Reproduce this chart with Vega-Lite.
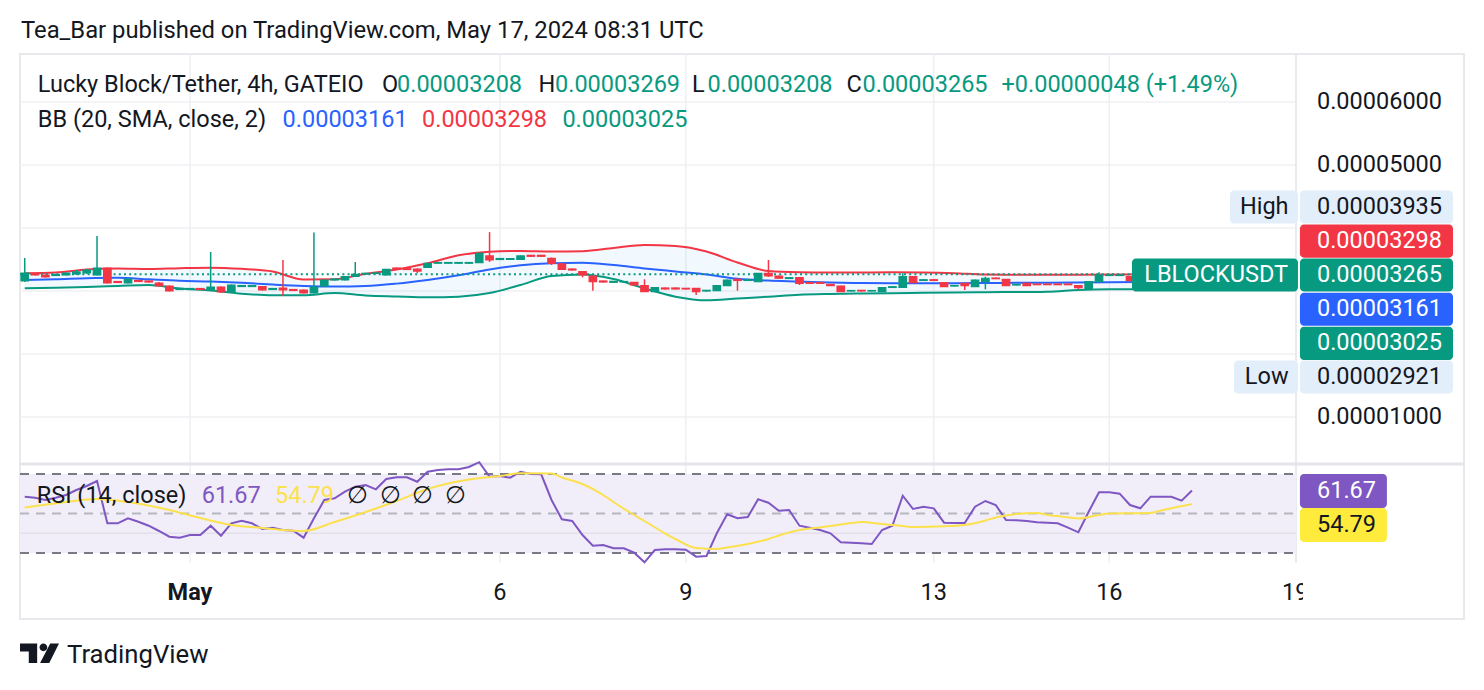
{
"$schema":"https://vega.github.io/schema/vega-lite/v6.json",
"width":1484,"height":690,
"autosize":{"type":"none"},
"padding":0,
"background":"#ffffff",
"config":{"view":{"stroke":null},"axis":{"disable":true},"font":"Roboto","scale":{"continuousPadding":0},"text":{"font":"Roboto","fontSize":23.5,"align":"left","baseline":"middle","color":"#131722"}},
"datasets":{
"candles":[
{"i":-16,"o":3.159e-5,"h":3.524e-5,"l":3.143e-5,"c":3.286e-5},
{"i":-15,"o":3.278e-5,"h":3.286e-5,"l":3.246e-5,"c":3.254e-5},
{"i":-14,"o":3.254e-5,"h":3.262e-5,"l":3.214e-5,"c":3.222e-5},
{"i":-13,"o":3.246e-5,"h":3.270e-5,"l":3.238e-5,"c":3.262e-5},
{"i":-12,"o":3.254e-5,"h":3.294e-5,"l":3.246e-5,"c":3.286e-5},
{"i":-11,"o":3.270e-5,"h":3.333e-5,"l":3.254e-5,"c":3.302e-5},
{"i":-10,"o":3.286e-5,"h":3.349e-5,"l":3.270e-5,"c":3.333e-5},
{"i":-9,"o":3.254e-5,"h":3.873e-5,"l":3.246e-5,"c":3.365e-5},
{"i":-8,"o":3.365e-5,"h":3.373e-5,"l":3.119e-5,"c":3.127e-5},
{"i":-7,"o":3.151e-5,"h":3.159e-5,"l":3.127e-5,"c":3.135e-5},
{"i":-6,"o":3.127e-5,"h":3.198e-5,"l":3.119e-5,"c":3.190e-5},
{"i":-5,"o":3.167e-5,"h":3.175e-5,"l":3.143e-5,"c":3.151e-5},
{"i":-4,"o":3.159e-5,"h":3.167e-5,"l":3.135e-5,"c":3.143e-5},
{"i":-3,"o":3.127e-5,"h":3.143e-5,"l":3.071e-5,"c":3.079e-5},
{"i":-2,"o":3.079e-5,"h":3.087e-5,"l":2.992e-5,"c":3.000e-5},
{"i":-1,"o":3.024e-5,"h":3.048e-5,"l":3.016e-5,"c":3.040e-5},
{"i":0,"o":3.024e-5,"h":3.048e-5,"l":3.016e-5,"c":3.040e-5},
{"i":1,"o":3.040e-5,"h":3.048e-5,"l":3.016e-5,"c":3.024e-5},
{"i":2,"o":3.016e-5,"h":3.619e-5,"l":3.000e-5,"c":3.063e-5},
{"i":3,"o":3.063e-5,"h":3.071e-5,"l":2.968e-5,"c":2.984e-5},
{"i":4,"o":2.984e-5,"h":3.103e-5,"l":2.976e-5,"c":3.095e-5},
{"i":5,"o":3.071e-5,"h":3.095e-5,"l":3.063e-5,"c":3.087e-5},
{"i":6,"o":3.071e-5,"h":3.095e-5,"l":3.063e-5,"c":3.087e-5},
{"i":7,"o":3.071e-5,"h":3.079e-5,"l":3.008e-5,"c":3.016e-5},
{"i":8,"o":3.024e-5,"h":3.048e-5,"l":3.016e-5,"c":3.040e-5},
{"i":9,"o":3.048e-5,"h":3.492e-5,"l":2.921e-5,"c":3.016e-5},
{"i":10,"o":3.024e-5,"h":3.032e-5,"l":3.000e-5,"c":3.008e-5},
{"i":11,"o":3.016e-5,"h":3.024e-5,"l":2.960e-5,"c":2.968e-5},
{"i":12,"o":2.968e-5,"h":3.929e-5,"l":2.960e-5,"c":3.063e-5},
{"i":13,"o":3.079e-5,"h":3.183e-5,"l":3.071e-5,"c":3.175e-5},
{"i":14,"o":3.175e-5,"h":3.198e-5,"l":3.167e-5,"c":3.190e-5},
{"i":15,"o":3.175e-5,"h":3.238e-5,"l":3.167e-5,"c":3.230e-5},
{"i":16,"o":3.230e-5,"h":3.460e-5,"l":3.222e-5,"c":3.265e-5},
{"i":17,"o":3.270e-5,"h":3.286e-5,"l":3.262e-5,"c":3.281e-5},
{"i":18,"o":3.278e-5,"h":3.294e-5,"l":3.270e-5,"c":3.286e-5},
{"i":19,"o":3.254e-5,"h":3.349e-5,"l":3.246e-5,"c":3.344e-5},
{"i":20,"o":3.365e-5,"h":3.373e-5,"l":3.341e-5,"c":3.349e-5},
{"i":21,"o":3.357e-5,"h":3.365e-5,"l":3.333e-5,"c":3.341e-5},
{"i":22,"o":3.349e-5,"h":3.357e-5,"l":3.286e-5,"c":3.317e-5},
{"i":23,"o":3.376e-5,"h":3.444e-5,"l":3.365e-5,"c":3.440e-5},
{"i":24,"o":3.441e-5,"h":3.460e-5,"l":3.437e-5,"c":3.452e-5},
{"i":25,"o":3.441e-5,"h":3.460e-5,"l":3.437e-5,"c":3.452e-5},
{"i":26,"o":3.441e-5,"h":3.460e-5,"l":3.437e-5,"c":3.452e-5},
{"i":27,"o":3.441e-5,"h":3.460e-5,"l":3.437e-5,"c":3.452e-5},
{"i":28,"o":3.449e-5,"h":3.603e-5,"l":3.444e-5,"c":3.598e-5},
{"i":29,"o":3.556e-5,"h":3.935e-5,"l":3.460e-5,"c":3.492e-5},
{"i":30,"o":3.500e-5,"h":3.524e-5,"l":3.492e-5,"c":3.516e-5},
{"i":31,"o":3.500e-5,"h":3.524e-5,"l":3.492e-5,"c":3.516e-5},
{"i":32,"o":3.503e-5,"h":3.564e-5,"l":3.500e-5,"c":3.556e-5},
{"i":33,"o":3.567e-5,"h":3.571e-5,"l":3.548e-5,"c":3.551e-5},
{"i":34,"o":3.567e-5,"h":3.571e-5,"l":3.548e-5,"c":3.551e-5},
{"i":35,"o":3.519e-5,"h":3.532e-5,"l":3.413e-5,"c":3.440e-5},
{"i":36,"o":3.429e-5,"h":3.437e-5,"l":3.341e-5,"c":3.344e-5},
{"i":37,"o":3.349e-5,"h":3.357e-5,"l":3.325e-5,"c":3.333e-5},
{"i":38,"o":3.306e-5,"h":3.317e-5,"l":3.217e-5,"c":3.254e-5},
{"i":39,"o":3.238e-5,"h":3.246e-5,"l":3.005e-5,"c":3.148e-5},
{"i":40,"o":3.159e-5,"h":3.167e-5,"l":3.135e-5,"c":3.143e-5},
{"i":41,"o":3.138e-5,"h":3.159e-5,"l":3.132e-5,"c":3.154e-5},
{"i":42,"o":3.143e-5,"h":3.159e-5,"l":3.135e-5,"c":3.151e-5},
{"i":43,"o":3.138e-5,"h":3.143e-5,"l":3.087e-5,"c":3.095e-5},
{"i":44,"o":3.084e-5,"h":3.186e-5,"l":2.984e-5,"c":2.989e-5},
{"i":45,"o":2.989e-5,"h":3.063e-5,"l":2.984e-5,"c":3.052e-5},
{"i":46,"o":3.048e-5,"h":3.056e-5,"l":3.024e-5,"c":3.032e-5},
{"i":47,"o":3.048e-5,"h":3.056e-5,"l":3.024e-5,"c":3.032e-5},
{"i":48,"o":3.043e-5,"h":3.048e-5,"l":3.024e-5,"c":3.032e-5},
{"i":49,"o":3.043e-5,"h":3.048e-5,"l":2.937e-5,"c":2.989e-5},
{"i":50,"o":3.000e-5,"h":3.016e-5,"l":2.992e-5,"c":3.011e-5},
{"i":51,"o":3.005e-5,"h":3.095e-5,"l":3.000e-5,"c":3.084e-5},
{"i":52,"o":3.084e-5,"h":3.183e-5,"l":3.079e-5,"c":3.175e-5},
{"i":53,"o":3.186e-5,"h":3.186e-5,"l":3.005e-5,"c":3.167e-5},
{"i":54,"o":3.167e-5,"h":3.186e-5,"l":3.159e-5,"c":3.179e-5},
{"i":55,"o":3.148e-5,"h":3.286e-5,"l":3.143e-5,"c":3.281e-5},
{"i":56,"o":3.281e-5,"h":3.492e-5,"l":3.222e-5,"c":3.238e-5},
{"i":57,"o":3.238e-5,"h":3.246e-5,"l":3.198e-5,"c":3.202e-5},
{"i":58,"o":3.198e-5,"h":3.214e-5,"l":3.190e-5,"c":3.211e-5},
{"i":59,"o":3.211e-5,"h":3.214e-5,"l":3.095e-5,"c":3.122e-5},
{"i":60,"o":3.135e-5,"h":3.143e-5,"l":3.119e-5,"c":3.122e-5},
{"i":61,"o":3.135e-5,"h":3.143e-5,"l":3.119e-5,"c":3.122e-5},
{"i":62,"o":3.106e-5,"h":3.111e-5,"l":3.079e-5,"c":3.084e-5},
{"i":63,"o":3.079e-5,"h":3.084e-5,"l":2.984e-5,"c":2.989e-5},
{"i":64,"o":3.000e-5,"h":3.011e-5,"l":2.992e-5,"c":3.008e-5},
{"i":65,"o":3.011e-5,"h":3.016e-5,"l":2.992e-5,"c":3.000e-5},
{"i":66,"o":3.000e-5,"h":3.011e-5,"l":2.992e-5,"c":3.008e-5},
{"i":67,"o":2.989e-5,"h":3.056e-5,"l":2.984e-5,"c":3.052e-5},
{"i":68,"o":3.056e-5,"h":3.071e-5,"l":3.048e-5,"c":3.068e-5},
{"i":69,"o":3.059e-5,"h":3.281e-5,"l":3.056e-5,"c":3.227e-5},
{"i":70,"o":3.227e-5,"h":3.230e-5,"l":3.127e-5,"c":3.132e-5},
{"i":71,"o":3.167e-5,"h":3.186e-5,"l":3.159e-5,"c":3.179e-5},
{"i":72,"o":3.179e-5,"h":3.186e-5,"l":3.159e-5,"c":3.167e-5},
{"i":73,"o":3.132e-5,"h":3.135e-5,"l":3.063e-5,"c":3.068e-5},
{"i":74,"o":3.079e-5,"h":3.087e-5,"l":3.071e-5,"c":3.087e-5},
{"i":75,"o":3.122e-5,"h":3.122e-5,"l":3.016e-5,"c":3.084e-5},
{"i":76,"o":3.068e-5,"h":3.183e-5,"l":3.063e-5,"c":3.175e-5},
{"i":77,"o":3.148e-5,"h":3.227e-5,"l":3.027e-5,"c":3.202e-5},
{"i":78,"o":3.206e-5,"h":3.211e-5,"l":3.190e-5,"c":3.195e-5},
{"i":79,"o":3.186e-5,"h":3.190e-5,"l":3.079e-5,"c":3.084e-5},
{"i":80,"o":3.095e-5,"h":3.111e-5,"l":3.087e-5,"c":3.106e-5},
{"i":81,"o":3.122e-5,"h":3.127e-5,"l":3.079e-5,"c":3.084e-5},
{"i":82,"o":3.111e-5,"h":3.111e-5,"l":3.095e-5,"c":3.100e-5},
{"i":83,"o":3.111e-5,"h":3.111e-5,"l":3.095e-5,"c":3.100e-5},
{"i":84,"o":3.111e-5,"h":3.111e-5,"l":3.095e-5,"c":3.100e-5},
{"i":85,"o":3.111e-5,"h":3.111e-5,"l":3.095e-5,"c":3.100e-5},
{"i":86,"o":3.084e-5,"h":3.087e-5,"l":3.027e-5,"c":3.052e-5},
{"i":87,"o":3.027e-5,"h":3.151e-5,"l":3.024e-5,"c":3.148e-5},
{"i":88,"o":3.148e-5,"h":3.297e-5,"l":3.143e-5,"c":3.254e-5},
{"i":89,"o":3.246e-5,"h":3.262e-5,"l":3.238e-5,"c":3.254e-5},
{"i":90,"o":3.246e-5,"h":3.262e-5,"l":3.238e-5,"c":3.254e-5},
{"i":91,"o":3.227e-5,"h":3.230e-5,"l":3.159e-5,"c":3.164e-5},
{"i":92,"o":3.164e-5,"h":3.175e-5,"l":3.143e-5,"c":3.151e-5},
{"i":93,"o":3.151e-5,"h":3.254e-5,"l":3.143e-5,"c":3.246e-5},
{"i":94,"o":3.243e-5,"h":3.254e-5,"l":3.238e-5,"c":3.249e-5},
{"i":95,"o":3.249e-5,"h":3.257e-5,"l":3.238e-5,"c":3.251e-5},
{"i":96,"o":3.246e-5,"h":3.254e-5,"l":3.198e-5,"c":3.208e-5},
{"i":97,"o":3.208e-5,"h":3.269e-5,"l":3.208e-5,"c":3.265e-5}
],
"bb":[
{"i":-16,"up":3.283e-5,"bas":3.175e-5,"lo":3.043e-5},
{"i":-13,"up":3.294e-5,"bas":3.186e-5,"lo":3.051e-5},
{"i":-10,"up":3.341e-5,"bas":3.203e-5,"lo":3.063e-5},
{"i":-7,"up":3.357e-5,"bas":3.210e-5,"lo":3.079e-5},
{"i":-4,"up":3.349e-5,"bas":3.186e-5,"lo":3.095e-5},
{"i":-1,"up":3.362e-5,"bas":3.163e-5,"lo":3.040e-5},
{"i":2,"up":3.370e-5,"bas":3.151e-5,"lo":3.008e-5},
{"i":5,"up":3.352e-5,"bas":3.130e-5,"lo":2.957e-5},
{"i":8,"up":3.310e-5,"bas":3.103e-5,"lo":2.932e-5},
{"i":11,"up":3.183e-5,"bas":3.081e-5,"lo":2.933e-5},
{"i":14,"up":3.187e-5,"bas":3.071e-5,"lo":2.967e-5},
{"i":17,"up":3.273e-5,"bas":3.079e-5,"lo":2.929e-5},
{"i":20,"up":3.341e-5,"bas":3.117e-5,"lo":2.913e-5},
{"i":23,"up":3.441e-5,"bas":3.175e-5,"lo":2.900e-5},
{"i":26,"up":3.567e-5,"bas":3.249e-5,"lo":2.910e-5},
{"i":29,"up":3.624e-5,"bas":3.341e-5,"lo":2.968e-5},
{"i":32,"up":3.635e-5,"bas":3.408e-5,"lo":3.095e-5},
{"i":35,"up":3.627e-5,"bas":3.440e-5,"lo":3.238e-5},
{"i":38,"up":3.632e-5,"bas":3.448e-5,"lo":3.262e-5},
{"i":41,"up":3.683e-5,"bas":3.414e-5,"lo":3.190e-5},
{"i":44,"up":3.730e-5,"bas":3.359e-5,"lo":3.040e-5},
{"i":47,"up":3.714e-5,"bas":3.310e-5,"lo":2.910e-5},
{"i":50,"up":3.627e-5,"bas":3.262e-5,"lo":2.852e-5},
{"i":53,"up":3.452e-5,"bas":3.194e-5,"lo":2.881e-5},
{"i":56,"up":3.317e-5,"bas":3.165e-5,"lo":2.910e-5},
{"i":59,"up":3.297e-5,"bas":3.151e-5,"lo":2.941e-5},
{"i":62,"up":3.292e-5,"bas":3.135e-5,"lo":2.954e-5},
{"i":65,"up":3.294e-5,"bas":3.127e-5,"lo":2.962e-5},
{"i":68,"up":3.297e-5,"bas":3.124e-5,"lo":2.965e-5},
{"i":71,"up":3.294e-5,"bas":3.122e-5,"lo":2.971e-5},
{"i":74,"up":3.283e-5,"bas":3.124e-5,"lo":2.976e-5},
{"i":77,"up":3.262e-5,"bas":3.127e-5,"lo":2.981e-5},
{"i":80,"up":3.259e-5,"bas":3.130e-5,"lo":2.984e-5},
{"i":83,"up":3.259e-5,"bas":3.132e-5,"lo":2.987e-5},
{"i":86,"up":3.259e-5,"bas":3.135e-5,"lo":3.016e-5},
{"i":89,"up":3.260e-5,"bas":3.138e-5,"lo":3.027e-5},
{"i":92,"up":3.267e-5,"bas":3.143e-5,"lo":3.027e-5},
{"i":95,"up":3.283e-5,"bas":3.151e-5,"lo":3.027e-5},
{"i":97,"up":3.298e-5,"bas":3.161e-5,"lo":3.025e-5}
],
"rsi":[
{"i":-16,"v":58.51},{"i":-15,"v":58.0},{"i":-14,"v":56.84},{"i":-13,"v":58.0},{"i":-12,"v":59.37},{"i":-11,"v":61.9},{"i":-10,"v":63.92},{"i":-9,"v":66.46},{"i":-8,"v":45.04},{"i":-7,"v":45.04},{"i":-6,"v":47.57},{"i":-5,"v":45.85},{"i":-4,"v":43.82},{"i":-3,"v":41.14},{"i":-2,"v":38.25},{"i":-1,"v":37.75},
{"i":0,"v":39.11},{"i":1,"v":39.11},{"i":2,"v":43.82},{"i":3,"v":38.76},{"i":4,"v":45.04},{"i":5,"v":46.35},{"i":6,"v":45.04},{"i":7,"v":42.15},{"i":8,"v":42.81},{"i":9,"v":41.65},{"i":10,"v":41.29},{"i":11,"v":37.75},{"i":12,"v":47.57},{"i":13,"v":56.84},{"i":14,"v":57.7},{"i":15,"v":61.04},{"i":16,"v":63.57},{"i":17,"v":64.43},{"i":18,"v":62.25},{"i":19,"v":67.47},
{"i":20,"v":68.33},{"i":21,"v":68.33},{"i":22,"v":66.1},{"i":23,"v":71.16},{"i":24,"v":72.03},{"i":25,"v":72.38},{"i":26,"v":72.38},{"i":27,"v":73.54},{"i":28,"v":76.0},{"i":29,"v":68.63},{"i":30,"v":68.99},{"i":31,"v":68.13},{"i":32,"v":71.16},{"i":33,"v":70.0},{"i":34,"v":69.85},{"i":35,"v":56.84},{"i":36,"v":47.06},{"i":37,"v":46.2},{"i":38,"v":39.11},{"i":39,"v":33.7},
{"i":40,"v":34.05},{"i":41,"v":32.38},{"i":42,"v":32.38},{"i":43,"v":30.15},{"i":44,"v":25.29},{"i":45,"v":31.52},{"i":46,"v":31.87},{"i":47,"v":31.87},{"i":48,"v":31.67},{"i":49,"v":28.13},{"i":50,"v":28.48},{"i":51,"v":39.97},{"i":52,"v":49.59},{"i":53,"v":47.57},{"i":54,"v":48.23},{"i":55,"v":57.19},{"i":56,"v":55.47},{"i":57,"v":51.42},{"i":58,"v":51.77},{"i":59,"v":43.82},
{"i":60,"v":42.81},{"i":61,"v":41.65},{"i":62,"v":39.97},{"i":63,"v":35.42},{"i":64,"v":35.21},{"i":65,"v":34.91},{"i":66,"v":34.56},{"i":67,"v":41.65},{"i":68,"v":43.82},{"i":69,"v":59.01},{"i":70,"v":52.28},{"i":71,"v":53.44},{"i":72,"v":52.63},{"i":73,"v":45.34},{"i":74,"v":45.19},{"i":75,"v":45.19},{"i":76,"v":53.44},{"i":77,"v":56.33},{"i":78,"v":54.3},{"i":79,"v":46.71},
{"i":80,"v":46.56},{"i":81,"v":46.2},{"i":82,"v":45.54},{"i":83,"v":45.34},{"i":84,"v":45.04},{"i":85,"v":42.81},{"i":86,"v":40.48},{"i":87,"v":50.91},{"i":88,"v":60.73},{"i":89,"v":60.73},{"i":90,"v":60.03},{"i":91,"v":54.3},{"i":92,"v":52.63},{"i":93,"v":58.51},{"i":94,"v":58.51},{"i":95,"v":58.51},{"i":96,"v":56.48},{"i":97,"v":61.67}
],
"ma":[
{"i":-16,"v":53.04},{"i":-12,"v":55.82},{"i":-9,"v":57.34},{"i":-6,"v":55.82},{"i":-2,"v":51.77},{"i":1,"v":47.72},{"i":4,"v":44.18},{"i":7,"v":42.66},{"i":11,"v":41.14},{"i":14,"v":45.7},{"i":17,"v":50.76},{"i":20,"v":56.33},{"i":23,"v":62.41},{"i":27,"v":67.22},{"i":30,"v":68.99},{"i":32,"v":70.35},{"i":35,"v":70.25},{"i":36,"v":68.23},{"i":38,"v":64.94},{"i":40,"v":59.37},{"i":41,"v":55.82},{"i":43,"v":49.24},{"i":44,"v":46.2},{"i":46,"v":39.87},{"i":47,"v":37.09},{"i":49,"v":32.53},{"i":51,"v":32.03},{"i":52,"v":32.78},{"i":54,"v":34.56},{"i":56,"v":37.09},{"i":57,"v":38.86},{"i":59,"v":41.65},{"i":60,"v":42.41},{"i":62,"v":43.67},{"i":64,"v":45.19},{"i":65,"v":45.7},{"i":67,"v":44.68},{"i":69,"v":43.67},{"i":70,"v":43.16},{"i":73,"v":43.52},{"i":75,"v":44.18},{"i":77,"v":46.46},{"i":78,"v":47.97},{"i":80,"v":49.75},{"i":82,"v":50.25},{"i":83,"v":49.24},{"i":84,"v":48.73},{"i":86,"v":47.47},{"i":88,"v":49.24},{"i":89,"v":50.0},{"i":93,"v":50.25},{"i":94,"v":51.52},{"i":97,"v":54.79}
],
"pticks":[{"p":0.00006,"t":"0.00006000"},{"p":0.00005,"t":"0.00005000"},{"p":0.00004,"t":"0.00004000"},{"p":0.00003,"t":"0.00003000"},{"p":0.00002,"t":"0.00002000"},{"p":0.00001,"t":"0.00001000"}],
"days":[{"i":0,"t":"May"},{"i":30,"t":"6"},{"i":48,"t":"9"},{"i":72,"t":"13"},{"i":89,"t":"16"},{"i":107,"t":"19"}],
"rlevels":[{"v":70},{"v":50},{"v":30}],
"plabels":[
{"k":"high","name":"High","p":0.00003935,"t":"0.00003935"},
{"k":"up","p":0.00003298,"t":"0.00003298"},
{"k":"close","name":"LBLOCKUSDT","p":0.00003265,"t":"0.00003265"},
{"k":"basis","p":0.00003161,"t":"0.00003161"},
{"k":"lower","p":0.00003025,"t":"0.00003025"},
{"k":"low","name":"Low","p":0.00002921,"t":"0.00002921"}
],
"rlabels":[{"k":"rsi","v":61.67,"t":"61.67"},{"k":"ma","v":54.79,"t":"54.79"}],
"legend":[{"sym":"Lucky Block/Tether, 4h, GATEIO","ol":"O","o":"0.00003208","hl":"H","h":"0.00003269","ll":"L","l":"0.00003208","cl":"C","c":"0.00003265","chg":"+0.00000048 (+1.49%)","bb":"BB (20, SMA, close, 2)","bbb":"0.00003161","bbu":"0.00003298","bbl":"0.00003025","rsi":"RSI (14, close)","rsiv":"61.67","rsima":"54.79","na":"∅\u00a0\u00a0∅\u00a0\u00a0∅\u00a0\u00a0∅"}],
"credits":[{"pub":"Tea_Bar published on TradingView.com, May 17, 2024 08:31 UTC","brand":"TradingView"}],
"frame":[{}]
},
"resolve":{"scale":{"y":"independent"}},
"layer":[
{"layer":[
{"data":{"name":"frame"},"mark":{"type":"rect","filled":false,"color":"#E8E9ED","strokeWidth":2},"encoding":{"x":{"datum":-16.457,"type":"quantitative","scale":{"domain":[-18.393,125.27],"nice":false,"zero":false,"padding":0}},"x2":{"datum":123.33},"y":{"datum":0.000067619,"type":"quantitative","scale":{"domain":[-0.0000333333,0.0000761905],"nice":false,"zero":false}},"y2":{"datum":-0.000022063}}},
{"data":{"name":"pticks"},"mark":{"type":"rule","color":"#F0F1F5","strokeWidth":1.5},"encoding":{"x":{"datum":-16.457,"type":"quantitative","scale":{"domain":[-18.393,125.27],"nice":false,"zero":false,"padding":0}},"x2":{"datum":107.07},"y":{"field":"p","type":"quantitative","scale":{"domain":[-0.0000333333,0.0000761905],"nice":false,"zero":false}}}},
{"data":{"name":"days"},"transform":[{"filter":"datum.i < 100"}],"mark":{"type":"rule","color":"#EEEFF3","strokeWidth":1.5},"encoding":{"x":{"field":"i","type":"quantitative","scale":{"domain":[-18.393,125.27],"nice":false,"zero":false,"padding":0}},"y":{"datum":0.000067619,"type":"quantitative","scale":{"domain":[-0.0000333333,0.0000761905],"nice":false,"zero":false}},"y2":{"datum":-0.000013175}}},
{"data":{"name":"frame"},"mark":{"type":"rule","color":"#E3E5EA","strokeWidth":1.5},"encoding":{"x":{"datum":107.07,"type":"quantitative","scale":{"domain":[-18.393,125.27],"nice":false,"zero":false,"padding":0}},"y":{"datum":0.000067619,"type":"quantitative","scale":{"domain":[-0.0000333333,0.0000761905],"nice":false,"zero":false}},"y2":{"datum":-0.000013175}}},
{"data":{"name":"frame"},"mark":{"type":"rule","color":"#E3E5EA","strokeWidth":3},"encoding":{"x":{"datum":-16.457,"type":"quantitative","scale":{"domain":[-18.393,125.27],"nice":false,"zero":false,"padding":0}},"x2":{"datum":123.33},"y":{"datum":0.00000254,"type":"quantitative","scale":{"domain":[-0.0000333333,0.0000761905],"nice":false,"zero":false}}}},
{"data":{"name":"bb"},"mark":{"type":"area","color":"#2196F3","opacity":0.06},"encoding":{"x":{"field":"i","type":"quantitative","scale":{"domain":[-18.393,125.27],"nice":false,"zero":false,"padding":0}},"y":{"field":"lo","type":"quantitative","scale":{"domain":[-0.0000333333,0.0000761905],"nice":false,"zero":false}},"y2":{"field":"up"}}},
{"data":{"name":"bb"},"mark":{"type":"line","color":"#F23645","strokeWidth":2,"interpolate":"monotone"},"encoding":{"x":{"field":"i","type":"quantitative","scale":{"domain":[-18.393,125.27],"nice":false,"zero":false,"padding":0}},"y":{"field":"up","type":"quantitative","scale":{"domain":[-0.0000333333,0.0000761905],"nice":false,"zero":false}}}},
{"data":{"name":"bb"},"mark":{"type":"line","color":"#2962FF","strokeWidth":2,"interpolate":"monotone"},"encoding":{"x":{"field":"i","type":"quantitative","scale":{"domain":[-18.393,125.27],"nice":false,"zero":false,"padding":0}},"y":{"field":"bas","type":"quantitative","scale":{"domain":[-0.0000333333,0.0000761905],"nice":false,"zero":false}}}},
{"data":{"name":"bb"},"mark":{"type":"line","color":"#089981","strokeWidth":2,"interpolate":"monotone"},"encoding":{"x":{"field":"i","type":"quantitative","scale":{"domain":[-18.393,125.27],"nice":false,"zero":false,"padding":0}},"y":{"field":"lo","type":"quantitative","scale":{"domain":[-0.0000333333,0.0000761905],"nice":false,"zero":false}}}},
{"data":{"name":"plabels"},"transform":[{"filter":"datum.k == 'close'"}],"mark":{"type":"rule","color":"#089981","strokeWidth":2,"strokeDash":[2,3.2]},"encoding":{"x":{"datum":-16.457,"type":"quantitative","scale":{"domain":[-18.393,125.27],"nice":false,"zero":false,"padding":0}},"x2":{"datum":91.19},"y":{"field":"p","type":"quantitative","scale":{"domain":[-0.0000333333,0.0000761905],"nice":false,"zero":false}}}},
{"data":{"name":"candles"},"mark":{"type":"rule","strokeWidth":1.5},"encoding":{"x":{"field":"i","type":"quantitative","scale":{"domain":[-18.393,125.27],"nice":false,"zero":false,"padding":0}},"y":{"field":"l","type":"quantitative","scale":{"domain":[-0.0000333333,0.0000761905],"nice":false,"zero":false}},"y2":{"field":"h"},"color":{"condition":{"test":"datum.c >= datum.o","value":"#089981"},"value":"#F23645"}}},
{"data":{"name":"candles"},"mark":{"type":"bar","width":7.5,"strokeWidth":1.2},"encoding":{"x":{"field":"i","type":"quantitative","scale":{"domain":[-18.393,125.27],"nice":false,"zero":false,"padding":0}},"y":{"field":"o","type":"quantitative","scale":{"domain":[-0.0000333333,0.0000761905],"nice":false,"zero":false}},"y2":{"field":"c"},"color":{"condition":{"test":"datum.c >= datum.o","value":"#089981"},"value":"#F23645"},"stroke":{"condition":{"test":"datum.c >= datum.o","value":"#089981"},"value":"#F23645"}}},
{"data":{"name":"credits"},"mark":{"type":"text","fontSize":23.8},"encoding":{"x":{"datum":-16.36,"type":"quantitative","scale":{"domain":[-18.393,125.27],"nice":false,"zero":false,"padding":0}},"y":{"datum":0.00007127,"type":"quantitative","scale":{"domain":[-0.0000333333,0.0000761905],"nice":false,"zero":false}},"text":{"field":"pub"}}},
{"data":{"name":"legend"},"mark":{"type":"text"},"encoding":{"x":{"datum":-14.734,"type":"quantitative","scale":{"domain":[-18.393,125.27],"nice":false,"zero":false,"padding":0}},"y":{"datum":0.000062698,"type":"quantitative","scale":{"domain":[-0.0000333333,0.0000761905],"nice":false,"zero":false}},"text":{"field":"sym"}}},
{"data":{"name":"legend"},"mark":{"type":"text"},"encoding":{"x":{"datum":18.587,"type":"quantitative","scale":{"domain":[-18.393,125.27],"nice":false,"zero":false,"padding":0}},"y":{"datum":0.000062698,"type":"quantitative","scale":{"domain":[-0.0000333333,0.0000761905],"nice":false,"zero":false}},"text":{"field":"ol"}}},
{"data":{"name":"legend"},"mark":{"type":"text","color":"#089981"},"encoding":{"x":{"datum":20.039,"type":"quantitative","scale":{"domain":[-18.393,125.27],"nice":false,"zero":false,"padding":0}},"y":{"datum":0.000062698,"type":"quantitative","scale":{"domain":[-0.0000333333,0.0000761905],"nice":false,"zero":false}},"text":{"field":"o"}}},
{"data":{"name":"legend"},"mark":{"type":"text"},"encoding":{"x":{"datum":33.737,"type":"quantitative","scale":{"domain":[-18.393,125.27],"nice":false,"zero":false,"padding":0}},"y":{"datum":0.000062698,"type":"quantitative","scale":{"domain":[-0.0000333333,0.0000761905],"nice":false,"zero":false}},"text":{"field":"hl"}}},
{"data":{"name":"legend"},"mark":{"type":"text","color":"#089981"},"encoding":{"x":{"datum":35.334,"type":"quantitative","scale":{"domain":[-18.393,125.27],"nice":false,"zero":false,"padding":0}},"y":{"datum":0.000062698,"type":"quantitative","scale":{"domain":[-0.0000333333,0.0000761905],"nice":false,"zero":false}},"text":{"field":"h"}}},
{"data":{"name":"legend"},"mark":{"type":"text"},"encoding":{"x":{"datum":48.597,"type":"quantitative","scale":{"domain":[-18.393,125.27],"nice":false,"zero":false,"padding":0}},"y":{"datum":0.000062698,"type":"quantitative","scale":{"domain":[-0.0000333333,0.0000761905],"nice":false,"zero":false}},"text":{"field":"ll"}}},
{"data":{"name":"legend"},"mark":{"type":"text","color":"#089981"},"encoding":{"x":{"datum":50.097,"type":"quantitative","scale":{"domain":[-18.393,125.27],"nice":false,"zero":false,"padding":0}},"y":{"datum":0.000062698,"type":"quantitative","scale":{"domain":[-0.0000333333,0.0000761905],"nice":false,"zero":false}},"text":{"field":"l"}}},
{"data":{"name":"legend"},"mark":{"type":"text"},"encoding":{"x":{"datum":63.553,"type":"quantitative","scale":{"domain":[-18.393,125.27],"nice":false,"zero":false,"padding":0}},"y":{"datum":0.000062698,"type":"quantitative","scale":{"domain":[-0.0000333333,0.0000761905],"nice":false,"zero":false}},"text":{"field":"cl"}}},
{"data":{"name":"legend"},"mark":{"type":"text","color":"#089981"},"encoding":{"x":{"datum":65.102,"type":"quantitative","scale":{"domain":[-18.393,125.27],"nice":false,"zero":false,"padding":0}},"y":{"datum":0.000062698,"type":"quantitative","scale":{"domain":[-0.0000333333,0.0000761905],"nice":false,"zero":false}},"text":{"field":"c"}}},
{"data":{"name":"legend"},"mark":{"type":"text","color":"#089981"},"encoding":{"x":{"datum":78.557,"type":"quantitative","scale":{"domain":[-18.393,125.27],"nice":false,"zero":false,"padding":0}},"y":{"datum":0.000062698,"type":"quantitative","scale":{"domain":[-0.0000333333,0.0000761905],"nice":false,"zero":false}},"text":{"field":"chg"}}},
{"data":{"name":"legend"},"mark":{"type":"text"},"encoding":{"x":{"datum":-14.734,"type":"quantitative","scale":{"domain":[-18.393,125.27],"nice":false,"zero":false,"padding":0}},"y":{"datum":0.000057222,"type":"quantitative","scale":{"domain":[-0.0000333333,0.0000761905],"nice":false,"zero":false}},"text":{"field":"bb"}}},
{"data":{"name":"legend"},"mark":{"type":"text","color":"#2962FF"},"encoding":{"x":{"datum":8.964,"type":"quantitative","scale":{"domain":[-18.393,125.27],"nice":false,"zero":false,"padding":0}},"y":{"datum":0.000057222,"type":"quantitative","scale":{"domain":[-0.0000333333,0.0000761905],"nice":false,"zero":false}},"text":{"field":"bbb"}}},
{"data":{"name":"legend"},"mark":{"type":"text","color":"#F23645"},"encoding":{"x":{"datum":22.459,"type":"quantitative","scale":{"domain":[-18.393,125.27],"nice":false,"zero":false,"padding":0}},"y":{"datum":0.000057222,"type":"quantitative","scale":{"domain":[-0.0000333333,0.0000761905],"nice":false,"zero":false}},"text":{"field":"bbu"}}},
{"data":{"name":"legend"},"mark":{"type":"text","color":"#089981"},"encoding":{"x":{"datum":36.05,"type":"quantitative","scale":{"domain":[-18.393,125.27],"nice":false,"zero":false,"padding":0}},"y":{"datum":0.000057222,"type":"quantitative","scale":{"domain":[-0.0000333333,0.0000761905],"nice":false,"zero":false}},"text":{"field":"bbl"}}},
{"data":{"name":"pticks"},"transform":[{"filter":"datum.p > 0.000045 || datum.p < 0.000015"}],"mark":{"type":"text"},"encoding":{"x":{"datum":109.1,"type":"quantitative","scale":{"domain":[-18.393,125.27],"nice":false,"zero":false,"padding":0}},"y":{"field":"p","type":"quantitative","scale":{"domain":[-0.0000333333,0.0000761905],"nice":false,"zero":false}},"text":{"field":"t"}}},
{"data":{"name":"days"},"transform":[{"filter":"datum.t != 'May'"}],"mark":{"type":"text","align":"center"},"encoding":{"x":{"field":"i","type":"quantitative","scale":{"domain":[-18.393,125.27],"nice":false,"zero":false,"padding":0}},"y":{"datum":-0.000017937,"type":"quantitative","scale":{"domain":[-0.0000333333,0.0000761905],"nice":false,"zero":false}},"text":{"field":"t"}}},
{"data":{"name":"days"},"transform":[{"filter":"datum.t == 'May'"}],"mark":{"type":"text","align":"center","fontWeight":"bold"},"encoding":{"x":{"field":"i","type":"quantitative","scale":{"domain":[-18.393,125.27],"nice":false,"zero":false,"padding":0}},"y":{"datum":-0.000017937,"type":"quantitative","scale":{"domain":[-0.0000333333,0.0000761905],"nice":false,"zero":false}},"text":{"field":"t"}}},
{"data":{"name":"frame"},"mark":{"type":"rect","color":"#ffffff"},"encoding":{"x":{"datum":107.75,"type":"quantitative","scale":{"domain":[-18.393,125.27],"nice":false,"zero":false,"padding":0}},"x2":{"datum":123.14},"y":{"datum":-0.000015079,"type":"quantitative","scale":{"domain":[-0.0000333333,0.0000761905],"nice":false,"zero":false}},"y2":{"datum":-0.000020952}}},
{"data":{"name":"credits"},"mark":{"type":"text","fontSize":25.7},"encoding":{"x":{"datum":-11.907,"type":"quantitative","scale":{"domain":[-18.393,125.27],"nice":false,"zero":false,"padding":0}},"y":{"datum":-0.000027778,"type":"quantitative","scale":{"domain":[-0.0000333333,0.0000761905],"nice":false,"zero":false}},"text":{"field":"brand"}}},
{"data":{"name":"frame"},"mark":{"type":"point","shape":"M-1,-0.49L-0.12,-0.49L-0.12,0.51L-0.55,0.51L-0.55,-0.08L-1,-0.08Z M0.4,-0.29A0.2,0.2 0 1,1 0,-0.29A0.2,0.2 0 1,1 0.4,-0.29Z M0.55,-0.49L1,-0.49L0.5,0.51L0.03,0.51Z","filled":true,"color":"#131722","size":1521,"opacity":1},"encoding":{"x":{"datum":-14.569,"type":"quantitative","scale":{"domain":[-18.393,125.27],"nice":false,"zero":false,"padding":0}},"y":{"datum":-0.00002746,"type":"quantitative","scale":{"domain":[-0.0000333333,0.0000761905],"nice":false,"zero":false}}}},
{"data":{"name":"plabels"},"transform":[{"filter":"datum.k == 'high'"}],"mark":{"type":"rect","color":"#E3EEFB","cornerRadius":4,"yOffset":-41.7,"y2Offset":-8.5},"encoding":{"x":{"datum":100.68,"type":"quantitative","scale":{"domain":[-18.393,125.27],"nice":false,"zero":false,"padding":0}},"x2":{"datum":107.26},"y":{"field":"p","type":"quantitative","scale":{"domain":[-0.0000333333,0.0000761905],"nice":false,"zero":false}},"y2":{"field":"p"}}},
{"data":{"name":"plabels"},"transform":[{"filter":"datum.k == 'high'"}],"mark":{"type":"rect","color":"#E3EEFB","cornerRadius":4,"yOffset":-41.7,"y2Offset":-8.5},"encoding":{"x":{"datum":107.45,"type":"quantitative","scale":{"domain":[-18.393,125.27],"nice":false,"zero":false,"padding":0}},"x2":{"datum":122.27},"y":{"field":"p","type":"quantitative","scale":{"domain":[-0.0000333333,0.0000761905],"nice":false,"zero":false}},"y2":{"field":"p"}}},
{"data":{"name":"plabels"},"transform":[{"filter":"datum.k == 'up'"}],"mark":{"type":"rect","color":"#F23645","cornerRadius":4,"yOffset":-47.8,"y2Offset":-14.6},"encoding":{"x":{"datum":107.45,"type":"quantitative","scale":{"domain":[-18.393,125.27],"nice":false,"zero":false,"padding":0}},"x2":{"datum":122.27},"y":{"field":"p","type":"quantitative","scale":{"domain":[-0.0000333333,0.0000761905],"nice":false,"zero":false}},"y2":{"field":"p"}}},
{"data":{"name":"plabels"},"transform":[{"filter":"datum.k == 'close'"}],"mark":{"type":"rect","color":"#089981","cornerRadius":4,"yOffset":-15.9,"y2Offset":17.3},"encoding":{"x":{"datum":91.19,"type":"quantitative","scale":{"domain":[-18.393,125.27],"nice":false,"zero":false,"padding":0}},"x2":{"datum":107.26},"y":{"field":"p","type":"quantitative","scale":{"domain":[-0.0000333333,0.0000761905],"nice":false,"zero":false}},"y2":{"field":"p"}}},
{"data":{"name":"plabels"},"transform":[{"filter":"datum.k == 'close'"}],"mark":{"type":"rect","color":"#089981","cornerRadius":4,"yOffset":-15.9,"y2Offset":17.3},"encoding":{"x":{"datum":107.45,"type":"quantitative","scale":{"domain":[-18.393,125.27],"nice":false,"zero":false,"padding":0}},"x2":{"datum":122.27},"y":{"field":"p","type":"quantitative","scale":{"domain":[-0.0000333333,0.0000761905],"nice":false,"zero":false}},"y2":{"field":"p"}}},
{"data":{"name":"plabels"},"transform":[{"filter":"datum.k == 'basis'"}],"mark":{"type":"rect","color":"#2962FF","cornerRadius":4,"yOffset":11.8,"y2Offset":45.0},"encoding":{"x":{"datum":107.45,"type":"quantitative","scale":{"domain":[-18.393,125.27],"nice":false,"zero":false,"padding":0}},"x2":{"datum":122.27},"y":{"field":"p","type":"quantitative","scale":{"domain":[-0.0000333333,0.0000761905],"nice":false,"zero":false}},"y2":{"field":"p"}}},
{"data":{"name":"plabels"},"transform":[{"filter":"datum.k == 'lower'"}],"mark":{"type":"rect","color":"#089981","cornerRadius":4,"yOffset":37.3,"y2Offset":70.5},"encoding":{"x":{"datum":107.45,"type":"quantitative","scale":{"domain":[-18.393,125.27],"nice":false,"zero":false,"padding":0}},"x2":{"datum":122.27},"y":{"field":"p","type":"quantitative","scale":{"domain":[-0.0000333333,0.0000761905],"nice":false,"zero":false}},"y2":{"field":"p"}}},
{"data":{"name":"plabels"},"transform":[{"filter":"datum.k == 'low'"}],"mark":{"type":"rect","color":"#E3EEFB","cornerRadius":4,"yOffset":64.4,"y2Offset":97.6},"encoding":{"x":{"datum":101.07,"type":"quantitative","scale":{"domain":[-18.393,125.27],"nice":false,"zero":false,"padding":0}},"x2":{"datum":107.26},"y":{"field":"p","type":"quantitative","scale":{"domain":[-0.0000333333,0.0000761905],"nice":false,"zero":false}},"y2":{"field":"p"}}},
{"data":{"name":"plabels"},"transform":[{"filter":"datum.k == 'low'"}],"mark":{"type":"rect","color":"#E3EEFB","cornerRadius":4,"yOffset":64.4,"y2Offset":97.6},"encoding":{"x":{"datum":107.45,"type":"quantitative","scale":{"domain":[-18.393,125.27],"nice":false,"zero":false,"padding":0}},"x2":{"datum":122.27},"y":{"field":"p","type":"quantitative","scale":{"domain":[-0.0000333333,0.0000761905],"nice":false,"zero":false}},"y2":{"field":"p"}}},
{"data":{"name":"plabels"},"transform":[{"filter":"datum.k == 'high'"}],"mark":{"type":"text","yOffset":-25.1},"encoding":{"x":{"datum":109.1,"type":"quantitative","scale":{"domain":[-18.393,125.27],"nice":false,"zero":false,"padding":0}},"y":{"field":"p","type":"quantitative","scale":{"domain":[-0.0000333333,0.0000761905],"nice":false,"zero":false}},"text":{"field":"t"}}},
{"data":{"name":"plabels"},"transform":[{"filter":"datum.k == 'high'"}],"mark":{"type":"text","align":"right","yOffset":-25.1},"encoding":{"x":{"datum":106.35,"type":"quantitative","scale":{"domain":[-18.393,125.27],"nice":false,"zero":false,"padding":0}},"y":{"field":"p","type":"quantitative","scale":{"domain":[-0.0000333333,0.0000761905],"nice":false,"zero":false}},"text":{"field":"name"}}},
{"data":{"name":"plabels"},"transform":[{"filter":"datum.k == 'up'"}],"mark":{"type":"text","color":"#ffffff","yOffset":-31.2},"encoding":{"x":{"datum":109.1,"type":"quantitative","scale":{"domain":[-18.393,125.27],"nice":false,"zero":false,"padding":0}},"y":{"field":"p","type":"quantitative","scale":{"domain":[-0.0000333333,0.0000761905],"nice":false,"zero":false}},"text":{"field":"t"}}},
{"data":{"name":"plabels"},"transform":[{"filter":"datum.k == 'close'"}],"mark":{"type":"text","color":"#ffffff","yOffset":0.7},"encoding":{"x":{"datum":109.1,"type":"quantitative","scale":{"domain":[-18.393,125.27],"nice":false,"zero":false,"padding":0}},"y":{"field":"p","type":"quantitative","scale":{"domain":[-0.0000333333,0.0000761905],"nice":false,"zero":false}},"text":{"field":"t"}}},
{"data":{"name":"plabels"},"transform":[{"filter":"datum.k == 'close'"}],"mark":{"type":"text","color":"#ffffff","align":"right","yOffset":0.7},"encoding":{"x":{"datum":106.3,"type":"quantitative","scale":{"domain":[-18.393,125.27],"nice":false,"zero":false,"padding":0}},"y":{"field":"p","type":"quantitative","scale":{"domain":[-0.0000333333,0.0000761905],"nice":false,"zero":false}},"text":{"field":"name"}}},
{"data":{"name":"plabels"},"transform":[{"filter":"datum.k == 'basis'"}],"mark":{"type":"text","color":"#ffffff","yOffset":28.4},"encoding":{"x":{"datum":109.1,"type":"quantitative","scale":{"domain":[-18.393,125.27],"nice":false,"zero":false,"padding":0}},"y":{"field":"p","type":"quantitative","scale":{"domain":[-0.0000333333,0.0000761905],"nice":false,"zero":false}},"text":{"field":"t"}}},
{"data":{"name":"plabels"},"transform":[{"filter":"datum.k == 'lower'"}],"mark":{"type":"text","color":"#ffffff","yOffset":53.9},"encoding":{"x":{"datum":109.1,"type":"quantitative","scale":{"domain":[-18.393,125.27],"nice":false,"zero":false,"padding":0}},"y":{"field":"p","type":"quantitative","scale":{"domain":[-0.0000333333,0.0000761905],"nice":false,"zero":false}},"text":{"field":"t"}}},
{"data":{"name":"plabels"},"transform":[{"filter":"datum.k == 'low'"}],"mark":{"type":"text","yOffset":81.0},"encoding":{"x":{"datum":109.1,"type":"quantitative","scale":{"domain":[-18.393,125.27],"nice":false,"zero":false,"padding":0}},"y":{"field":"p","type":"quantitative","scale":{"domain":[-0.0000333333,0.0000761905],"nice":false,"zero":false}},"text":{"field":"t"}}},
{"data":{"name":"plabels"},"transform":[{"filter":"datum.k == 'low'"}],"mark":{"type":"text","align":"right","yOffset":81.0},"encoding":{"x":{"datum":106.35,"type":"quantitative","scale":{"domain":[-18.393,125.27],"nice":false,"zero":false,"padding":0}},"y":{"field":"p","type":"quantitative","scale":{"domain":[-0.0000333333,0.0000761905],"nice":false,"zero":false}},"text":{"field":"name"}}}
]},
{"layer":[
{"data":{"name":"frame"},"mark":{"type":"rect","color":"#F2EEF9"},"encoding":{"x":{"datum":-16.457,"type":"quantitative","scale":{"domain":[-18.393,125.27],"nice":false,"zero":false,"padding":0}},"x2":{"datum":107.07},"y":{"datum":70,"type":"quantitative","scale":{"domain":[-39.367,310],"nice":false,"zero":false}},"y2":{"datum":30}}},
{"data":{"name":"frame"},"mark":{"type":"rule","color":"#E3E0EA","strokeWidth":1.5},"encoding":{"x":{"datum":-16.457,"type":"quantitative","scale":{"domain":[-18.393,125.27],"nice":false,"zero":false,"padding":0}},"x2":{"datum":107.07},"y":{"datum":40,"type":"quantitative","scale":{"domain":[-39.367,310],"nice":false,"zero":false}}}},
{"data":{"name":"rlevels"},"transform":[{"filter":"datum.v != 50"}],"mark":{"type":"rule","color":"#787B86","strokeWidth":2,"strokeDash":[9,7]},"encoding":{"x":{"datum":-16.457,"type":"quantitative","scale":{"domain":[-18.393,125.27],"nice":false,"zero":false,"padding":0}},"x2":{"datum":107.07},"y":{"field":"v","type":"quantitative","scale":{"domain":[-39.367,310],"nice":false,"zero":false}}}},
{"data":{"name":"rlevels"},"transform":[{"filter":"datum.v == 50"}],"mark":{"type":"rule","color":"#B5B7BE","strokeWidth":2,"strokeDash":[9,7]},"encoding":{"x":{"datum":-16.457,"type":"quantitative","scale":{"domain":[-18.393,125.27],"nice":false,"zero":false,"padding":0}},"x2":{"datum":107.07},"y":{"field":"v","type":"quantitative","scale":{"domain":[-39.367,310],"nice":false,"zero":false}}}},
{"data":{"name":"rsi"},"mark":{"type":"line","color":"#7E57C2","strokeWidth":2},"encoding":{"x":{"field":"i","type":"quantitative","scale":{"domain":[-18.393,125.27],"nice":false,"zero":false,"padding":0}},"y":{"field":"v","type":"quantitative","scale":{"domain":[-39.367,310],"nice":false,"zero":false}}}},
{"data":{"name":"ma"},"mark":{"type":"line","color":"#FBE14D","strokeWidth":2,"interpolate":"monotone"},"encoding":{"x":{"field":"i","type":"quantitative","scale":{"domain":[-18.393,125.27],"nice":false,"zero":false,"padding":0}},"y":{"field":"v","type":"quantitative","scale":{"domain":[-39.367,310],"nice":false,"zero":false}}}},
{"data":{"name":"legend"},"mark":{"type":"text"},"encoding":{"x":{"datum":-14.84,"type":"quantitative","scale":{"domain":[-18.393,125.27],"nice":false,"zero":false,"padding":0}},"y":{"datum":58.86,"type":"quantitative","scale":{"domain":[-39.367,310],"nice":false,"zero":false}},"text":{"field":"rsi"}}},
{"data":{"name":"legend"},"mark":{"type":"text","color":"#7E57C2"},"encoding":{"x":{"datum":1.133,"type":"quantitative","scale":{"domain":[-18.393,125.27],"nice":false,"zero":false,"padding":0}},"y":{"datum":58.86,"type":"quantitative","scale":{"domain":[-39.367,310],"nice":false,"zero":false}},"text":{"field":"rsiv"}}},
{"data":{"name":"legend"},"mark":{"type":"text","color":"#FBE14D"},"encoding":{"x":{"datum":8.228,"type":"quantitative","scale":{"domain":[-18.393,125.27],"nice":false,"zero":false,"padding":0}},"y":{"datum":58.86,"type":"quantitative","scale":{"domain":[-39.367,310],"nice":false,"zero":false}},"text":{"field":"rsima"}}},
{"data":{"name":"legend"},"mark":{"type":"text"},"encoding":{"x":{"datum":15.198,"type":"quantitative","scale":{"domain":[-18.393,125.27],"nice":false,"zero":false,"padding":0}},"y":{"datum":58.86,"type":"quantitative","scale":{"domain":[-39.367,310],"nice":false,"zero":false}},"text":{"field":"na"}}},
{"data":{"name":"rlabels"},"transform":[{"filter":"datum.k == 'rsi'"}],"mark":{"type":"rect","color":"#7E57C2","cornerRadius":4,"yOffset":-16.5,"y2Offset":17.5},"encoding":{"x":{"datum":107.45,"type":"quantitative","scale":{"domain":[-18.393,125.27],"nice":false,"zero":false,"padding":0}},"x2":{"datum":115.87},"y":{"field":"v","type":"quantitative","scale":{"domain":[-39.367,310],"nice":false,"zero":false}},"y2":{"field":"v"}}},
{"data":{"name":"rlabels"},"transform":[{"filter":"datum.k == 'ma'"}],"mark":{"type":"rect","color":"#FFEB3B","cornerRadius":4,"yOffset":4,"y2Offset":38},"encoding":{"x":{"datum":107.45,"type":"quantitative","scale":{"domain":[-18.393,125.27],"nice":false,"zero":false,"padding":0}},"x2":{"datum":115.87},"y":{"field":"v","type":"quantitative","scale":{"domain":[-39.367,310],"nice":false,"zero":false}},"y2":{"field":"v"}}},
{"data":{"name":"rlabels"},"transform":[{"filter":"datum.k == 'rsi'"}],"mark":{"type":"text","color":"#ffffff","yOffset":0.5},"encoding":{"x":{"datum":109.1,"type":"quantitative","scale":{"domain":[-18.393,125.27],"nice":false,"zero":false,"padding":0}},"y":{"field":"v","type":"quantitative","scale":{"domain":[-39.367,310],"nice":false,"zero":false}},"text":{"field":"t"}}},
{"data":{"name":"rlabels"},"transform":[{"filter":"datum.k == 'ma'"}],"mark":{"type":"text","yOffset":21},"encoding":{"x":{"datum":109.1,"type":"quantitative","scale":{"domain":[-18.393,125.27],"nice":false,"zero":false,"padding":0}},"y":{"field":"v","type":"quantitative","scale":{"domain":[-39.367,310],"nice":false,"zero":false}},"text":{"field":"t"}}}
]}
]
}
